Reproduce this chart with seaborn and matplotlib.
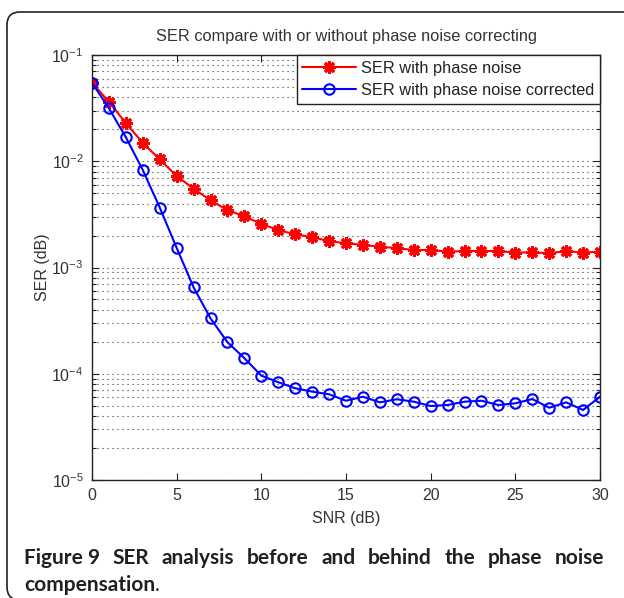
import matplotlib
matplotlib.use("Agg")
import matplotlib.pyplot as plt
import seaborn as sns
from matplotlib.patches import FancyBboxPatch
from matplotlib.ticker import LogLocator, NullLocator, FixedLocator
from matplotlib.transforms import IdentityTransform

# SNR sweep (dB)
snr_db = list(range(31))

# Symbol error rate without phase-noise correction
ser_phase_noise = [
    0.0548, 0.0363, 0.0228, 0.0149, 0.0104, 0.00726, 0.00552, 0.00429,
    0.00347, 0.00303, 0.00257, 0.00225, 0.00205, 0.00193, 0.00177, 0.00169,
    0.00163, 0.00157, 0.00152, 0.00146, 0.00146, 0.00141, 0.00143, 0.00143,
    0.00143, 0.00138, 0.00139, 0.00136, 0.00143, 0.00138, 0.00141,
]

# Symbol error rate with phase-noise correction
ser_corrected = [
    0.0548, 0.0315, 0.0168, 0.00827, 0.00367, 0.00153, 0.00065, 0.000332,
    0.000198, 0.00014, 0.000096, 0.0000832, 0.000073, 0.0000679, 0.0000641,
    0.0000557, 0.0000608, 0.0000538, 0.0000575, 0.0000546, 0.0000497,
    0.0000508, 0.0000546, 0.0000557, 0.0000508, 0.0000527, 0.0000578,
    0.0000479, 0.0000538, 0.0000456, 0.0000608,
]

series_labels = ["SER with phase noise", "SER with phase noise corrected"]
chart_title = "SER compare with or without phase noise correcting"
x_label = "SNR (dB)"
y_label = "SER (dB)"
x_ticks = [0, 5, 10, 15, 20, 25, 30]
caption_lead = "Figure 9"
caption_words = "SER analysis before and behind the phase noise".split()
caption_tail = "compensation"

sns.set_theme(style="ticks")
plt.rcParams["font.family"] = ["Liberation Sans", "DejaVu Sans"]
plt.rcParams["mathtext.fontset"] = "custom"
plt.rcParams["mathtext.rm"] = "Liberation Sans"
plt.rcParams["mathtext.it"] = "Liberation Sans:italic"
plt.rcParams["mathtext.bf"] = "Liberation Sans:bold"

W, H = 624, 598
fig = plt.figure(figsize=(W / 100, H / 100), dpi=100)
fig.patch.set_facecolor("white")

# axes box in pixel terms: left 92, right 600, top 55, bottom 480
ax = fig.add_axes([92 / W, 1 - 480 / H, (600 - 92) / W, (480 - 55) / H])
ax.set_facecolor("white")

sns.lineplot(x=snr_db, y=ser_phase_noise, ax=ax, color="#ff0000",
             marker=(8, 2, 0), markersize=9, markerfacecolor="#ff0000",
             markeredgecolor="#ff0000", markeredgewidth=2.2,
             linewidth=1.5, label=series_labels[0])
sns.lineplot(x=snr_db, y=ser_corrected, ax=ax, color="#0000ff",
             marker="o", markersize=7.5, markerfacecolor="none",
             markeredgecolor="#0000ff", markeredgewidth=1.5,
             linewidth=1.5, label=series_labels[1])

ax.set_yscale("log")
ax.set_xlim(0, 30)
ax.set_ylim(1e-5, 1e-1)
ax.xaxis.set_major_locator(FixedLocator(x_ticks))
ax.xaxis.set_minor_locator(NullLocator())
ax.yaxis.set_major_locator(LogLocator(base=10, numticks=10))
ax.yaxis.set_minor_locator(LogLocator(base=10, subs=range(2, 10), numticks=20))

ax.grid(False)
ax.yaxis.grid(True, which="both", linestyle=(0, (1, 3.5)), color="#333333",
              linewidth=0.8)

ax.tick_params(which="both", direction="in", top=True, right=True,
               colors="#222222", labelcolor="#333333", labelsize=11.5,
               width=0.8)
ax.tick_params(which="major", length=5, pad=6)
ax.tick_params(which="minor", length=3)
for s in ax.spines.values():
    s.set_color("#222222")
    s.set_linewidth(1.0)
    s.set_visible(True)

ax.set_title(chart_title, fontsize=11.8, color="#333333", pad=10)
ax.set_xlabel(x_label, fontsize=11.5, color="#333333")
ax.set_ylabel(y_label, fontsize=11.5, color="#333333")
ax.xaxis.set_label_coords(0.5, (480 - 511) / 425)
ax.yaxis.set_label_coords((50 - 92) / 508, 0.5)

leg = ax.legend(loc="upper right", borderaxespad=0, frameon=True,
                fancybox=False, edgecolor="#222222", framealpha=1,
                fontsize=11.75, handlelength=3.3, handletextpad=0.3,
                borderpad=0.35, labelspacing=0.45)
leg.get_frame().set_linewidth(1.0)
for t in leg.get_texts():
    t.set_color("#222222")

# rounded outer frame
frame = FancyBboxPatch((7, -2), 640, 588,
                       boxstyle="round,pad=0,rounding_size=13",
                       transform=IdentityTransform(), facecolor="none",
                       edgecolor="#222222", linewidth=1.2, clip_on=False)
fig.patches.append(frame)

# caption, first line justified between x=24 and x=604
renderer = fig.canvas.get_renderer()
cap_font = dict(family=["Lato", "DejaVu Sans"],
                fontsize=15, color="#231f20", fontweight="bold")
line1_y = H - 564
texts = []
for word in [caption_lead] + caption_words:
    t = fig.text(0, line1_y, word, transform=IdentityTransform(),
                 va="baseline", ha="left", **cap_font)
    texts.append(t)
widths = [t.get_window_extent(renderer).width for t in texts]
gap = (604 - 24 - sum(widths)) / (len(texts) - 1)
x = 24
for t, w in zip(texts, widths):
    t.set_x(x)
    x += w + gap

tail = fig.text(24, H - 591, caption_tail, transform=IdentityTransform(),
                va="baseline", ha="left", **cap_font)
tail_w = tail.get_window_extent(renderer).width
fig.text(24 + tail_w, H - 591, ".", transform=IdentityTransform(),
         va="baseline", ha="left",
         **{**cap_font, "fontweight": "normal"})

fig.savefig("out.png", dpi=100)
